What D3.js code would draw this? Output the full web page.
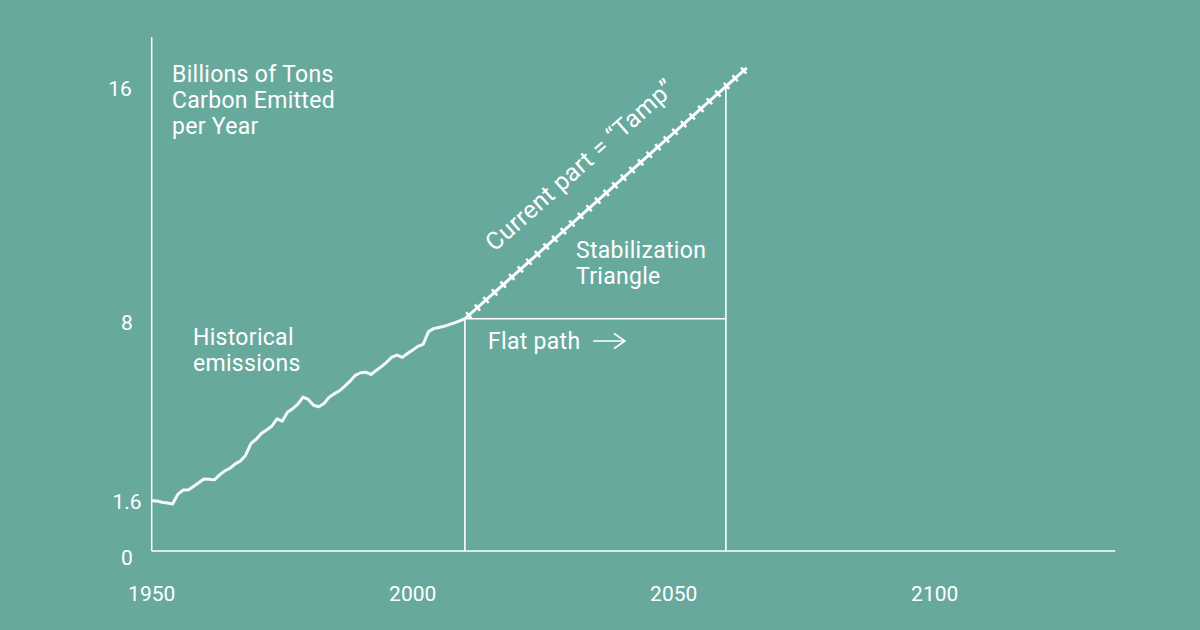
<!DOCTYPE html>
<html>
<head>
<meta charset="utf-8">
<script src="https://cdn.jsdelivr.net/npm/d3@7"></script>
<style>
  html, body { margin: 0; padding: 0; background: #68a99e; }
  svg { display: block; }
  text { font-family: Roboto, "Noto Sans", sans-serif; fill: #fff; }
</style>
</head>
<body>
<svg id="chart" width="1200" height="630"></svg>
<script>
// historical emissions, billions of tons carbon per year
const years = [1950, 1951, 1952, 1953, 1954, 1955, 1956, 1957, 1958, 1959,
               1960, 1961, 1962, 1963, 1964, 1965, 1966, 1967, 1968, 1969,
               1970, 1971, 1972, 1973, 1974, 1975, 1976, 1977, 1978, 1979,
               1980, 1981, 1982, 1983, 1984, 1985, 1986, 1987, 1988, 1989,
               1990, 1991, 1992, 1993, 1994, 1995, 1996, 1997, 1998, 1999,
               2000, 2001, 2002, 2003, 2004, 2005, 2006, 2007, 2008, 2009, 2010];
const emissions = [1.73, 1.72, 1.68, 1.65, 1.62, 1.95, 2.10, 2.10, 2.22, 2.35,
                   2.48, 2.47, 2.45, 2.62, 2.76, 2.85, 3.00, 3.10, 3.30, 3.70,
                   3.85, 4.05, 4.17, 4.30, 4.55, 4.47, 4.78, 4.90, 5.06, 5.30,
                   5.22, 5.02, 4.97, 5.08, 5.30, 5.42, 5.52, 5.68, 5.85, 6.05,
                   6.14, 6.16, 6.08, 6.22, 6.35, 6.50, 6.68, 6.75, 6.67, 6.80,
                   6.92, 7.05, 7.12, 7.55, 7.66, 7.70, 7.74, 7.80, 7.86, 7.93, 8.00];

// current path ("ramp") and the flat path
const rampYears = [2010, 2064];
const rampValues = [8, 16.64];
const flatYears = [2010, 2060];
const flatValue = 8;
const triangleTop = 16;

const xTicks = [1950, 2000, 2050, 2100];
const yTicks = [0, 1.6, 8, 16];

const svg = d3.select('#chart');

const x = d3.scaleLinear().domain([1950, 2050]).range([151.7, 673.7]);
const y = d3.scaleLinear().domain([0, 16]).range([551, 86.5]);

const g = svg.append('g');

// axes (plain white lines)
g.append('line')
    .attr('x1', x(1950)).attr('x2', x(1950))
    .attr('y1', y(0)).attr('y2', y(17.7))
    .attr('stroke', '#fff').attr('stroke-width', 1.5);
g.append('line')
    .attr('x1', x(1950)).attr('x2', x(2134.6))
    .attr('y1', y(0)).attr('y2', y(0))
    .attr('stroke', '#fff').attr('stroke-width', 1.5);

g.selectAll('.x-tick')
    .data(xTicks)
    .join('text')
    .attr('class', 'x-tick')
    .attr('x', d => x(d))
    .attr('y', 601)
    .attr('text-anchor', 'middle')
    .attr('font-size', 21)
    .text(d => d);

// the y labels in the original sit a little off their values
const yNudge = v => v === 0 ? 14 : v === 1.6 ? 4.5 : v === 8 ? 11.5 : 9;
g.selectAll('.y-tick')
    .data(yTicks)
    .join('text')
    .attr('class', 'y-tick')
    .attr('x', d => d === 16 ? 120 : 127)
    .attr('y', d => y(d) + yNudge(d))
    .attr('text-anchor', 'middle')
    .attr('font-size', 21)
    .text(d => d);

// stabilization triangle outline
const lineWhite = sel => sel.attr('stroke', '#fff').attr('stroke-width', 1.6);
g.append('line').call(lineWhite)
    .attr('x1', x(flatYears[0])).attr('x2', x(flatYears[0]))
    .attr('y1', y(0)).attr('y2', y(flatValue));
g.append('line').call(lineWhite)
    .attr('x1', x(flatYears[1])).attr('x2', x(flatYears[1]))
    .attr('y1', y(0)).attr('y2', y(triangleTop));
g.append('line').call(lineWhite)
    .attr('x1', x(flatYears[0])).attr('x2', x(flatYears[1]))
    .attr('y1', y(flatValue)).attr('y2', y(flatValue));

// historical line
const hist = years.map((d, i) => [d, emissions[i]]);
g.append('path')
    .datum(hist)
    .attr('fill', 'none')
    .attr('stroke', '#f4faf8')
    .attr('stroke-width', 3)
    .attr('stroke-linejoin', 'round')
    .attr('d', d3.line().x(d => x(d[0])).y(d => y(d[1])));

// ramp, drawn as a track: solid line plus cross ticks
const ramp = rampYears.map((d, i) => [d, rampValues[i]]);
const rampLine = d3.line().x(d => x(d[0])).y(d => y(d[1]));
g.append('path')
    .datum(ramp)
    .attr('stroke', '#fff')
    .attr('stroke-width', 3)
    .attr('d', rampLine);
g.append('path')
    .datum(ramp)
    .attr('stroke', '#fff')
    .attr('stroke-width', 8)
    .attr('stroke-dasharray', '2.5 9')
    .attr('stroke-dashoffset', -4)
    .attr('d', rampLine);

// labels
const label = (tx, ty, lines) => {
    const t = g.append('text')
        .attr('x', tx).attr('y', ty)
        .attr('font-size', 23)
        .attr('letter-spacing', 0.3);
    lines.forEach((s, i) => t.append('tspan')
        .attr('x', tx).attr('dy', i ? 26 : 0).text(s));
    return t;
};
label(172, 81.5, ['Billions of Tons', 'Carbon Emitted', 'per Year']);
label(193, 345, ['Historical', 'emissions']);
label(576, 258, ['Stabilization', 'Triangle']);
label(488, 349, ['Flat path']);

// arrow after "Flat path"
g.append('path')
    .attr('d', 'M593,341H625M614,333.5L625,341L614,348.5')
    .attr('fill', 'none')
    .attr('stroke', '#fff')
    .attr('stroke-width', 1.6);

// rotated label along the ramp
const angle = Math.atan2(y(16) - y(8), x(2060) - x(2010)) * 180 / Math.PI;
g.append('text')
    .attr('transform', `translate(${x(2019.5)},${y(8 + 0.16 * 9.5)}) rotate(${angle}) translate(0,-30)`)
    .attr('font-size', 24.5)
    .attr('letter-spacing', 0.4)
    .text('Current part = \u201CTamp\u201D');
</script>
</body>
</html>
